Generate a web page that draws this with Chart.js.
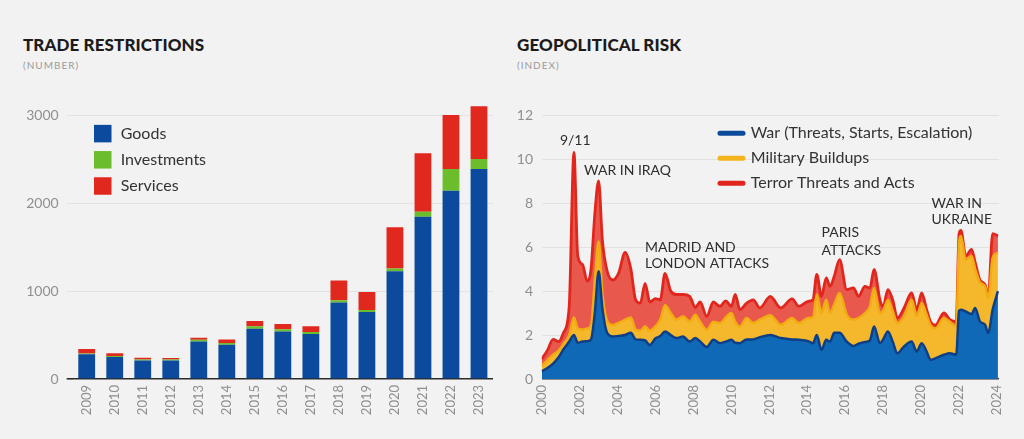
<!DOCTYPE html>
<html>
<head>
<meta charset="utf-8">
<script src="https://cdn.jsdelivr.net/npm/chart.js@4.4.1/dist/chart.umd.min.js"></script>
<style>
  html, body { margin: 0; padding: 0; background: #f2f2f2; }
  body { width: 1024px; height: 439px; position: relative; overflow: hidden; font-family: Lato, "Noto Sans", sans-serif; }
  canvas { position: absolute; top: 0; }
  #c1 { left: 0; }
  #c2 { left: 512px; }
  .title { position: absolute; font-weight: 900; font-size: 17px; line-height: 1; color: #1b1b1b; letter-spacing: 0.1px; }
  .sub { position: absolute; font-size: 10px; line-height: 1; color: #9a9a9a; letter-spacing: 1px; }
</style>
</head>
<body>
<div class="title" style="left:23px; top:36px;">TRADE RESTRICTIONS</div>
<div class="sub" style="left:23px; top:60px;">(NUMBER)</div>
<div class="title" style="left:517px; top:36px;">GEOPOLITICAL RISK</div>
<div class="sub" style="left:517px; top:60px;">(INDEX)</div>
<canvas id="c1" width="512" height="439"></canvas>
<canvas id="c2" width="512" height="439"></canvas>
<script>
// ---------- Trade restrictions (number) ----------
const tradeYears = ['2009','2010','2011','2012','2013','2014','2015','2016','2017','2018','2019','2020','2021','2022','2023'];
const goods       = [280, 250, 210, 210, 425, 390, 570, 540, 510, 870, 760, 1225, 1845, 2140, 2385];
const investments = [10, 12, 12, 12, 20, 20, 30, 25, 25, 25, 25, 30, 55, 245, 115];
const services    = [50, 30, 20, 18, 25, 40, 60, 60, 65, 225, 205, 470, 665, 615, 600];
const tradeTicks  = [0, 1000, 2000, 3000];

// ---------- Geopolitical risk (index) ----------
const riskDates = [2000.0, 2000.3, 2000.6, 2000.9, 2001.15, 2001.45, 2001.7, 2001.9, 2002.15, 2002.4,
  2002.6, 2002.8, 2003.0, 2003.2, 2003.45, 2003.75, 2004.05, 2004.4, 2004.7, 2004.95,
  2005.2, 2005.45, 2005.7, 2006.0, 2006.25, 2006.5, 2006.8, 2007.1, 2007.45, 2007.8,
  2008.1, 2008.35, 2008.7, 2009.05, 2009.4, 2009.7, 2010.0, 2010.2, 2010.45, 2010.8,
  2011.15, 2011.5, 2012.05, 2012.6, 2013.2, 2013.55, 2014.05, 2014.3, 2014.5, 2014.75,
  2015.0, 2015.2, 2015.42, 2015.7, 2016.08, 2016.43, 2016.7, 2017.04, 2017.3, 2017.52,
  2017.83, 2018.0, 2018.25, 2018.5, 2018.75, 2019.1, 2019.5, 2019.77, 2020.03, 2020.29,
  2020.5, 2020.75, 2021.2, 2021.52, 2021.85, 2022.0, 2022.1, 2022.35, 2022.66, 2022.85,
  2023.1, 2023.37, 2023.54, 2023.77, 2024.05];
const war = [0.35,0.5,0.7,1.0,1.35, 1.7,2.0,1.65,1.7,1.72, 1.8,3.0,4.9,3.2,2.1, 1.93,1.96,2.0,2.1,1.8,
  1.78,1.75,1.55,1.85,1.95, 2.16,2.0,1.86,1.93,1.7, 1.86,1.7,1.45,1.78,1.63, 1.7,1.78,1.65,1.63,1.8,
  1.8,1.9,2.0,1.86,1.8, 1.78,1.72,1.63,2.0,1.32, 1.78,1.7,2.1,2.1,1.7, 1.5,1.6,1.68,1.75,2.39,
  1.63,1.8,2.16,1.7,1.17, 1.48,1.7,1.25,1.63,1.25, 0.87,0.94,1.1,1.17,1.1, 3.1,3.15,3.07,2.95,3.23,
  2.62,2.47,2.09,3.15,3.99];
const militaryBuildups = [0.25,0.35,0.4,0.3,0.25, 0.3,0.8,0.65,0.55,0.58, 0.65,1.5,1.35,0.7,0.55, 0.52,0.59,0.7,0.7,0.45,
  0.42,0.65,0.65,0.55,0.75, 1.19,1.0,0.84,0.92,0.92, 1.06,0.9,0.79,0.82,0.91, 1.1,1.22,0.95,0.76,0.97,
  0.74,0.8,0.9,0.61,0.97, 0.76,1.05,1.17,1.84,1.68, 1.82,1.3,1.3,1.81,1.22, 1.2,1.17,1.32,1.55,1.75,
  1.37,1.3,1.44,1.4,1.37, 1.37,1.9,1.6,1.82,1.67, 1.58,1.36,1.67,1.43,1.29, 3.1,3.35,2.36,2.64,1.77,
  1.78,1.74,1.59,2.36,1.75];
const terror = [0.3,0.45,0.7,0.4,0.5, 1.3,7.5,3.3,2.95,2.15, 2.55,3.0,2.75,2.4,2.25, 2.05,2.25,3.05,2.2,1.35,
  1.25,1.95,1.3,1.25,0.9, 1.45,1.0,1.14,0.99,1.14, 0.33,0.9,0.61,0.9,0.76, 0.75,0.3,1.24,0.76,0.68,
  1.06,0.53,0.86,0.76,0.87, 0.76,0.76,0.8,0.91,0.76, 1.0,1.21,1.27,1.52,1.14, 1.44,0.99,1.21,0.84,0.84,
  0.6,0.2,0.46,0.5,0.23, 0.38,0.31,0.3,0.46,0.23, 0.15,0.15,0.23,0.1,0.23, 0.4,0.25,0.17,0.3,0.3,
  0.1,0.08,0.08,1.1,0.76];
const riskYTicks = [0, 2, 4, 6, 8, 10, 12];
const riskXTicks = [2000, 2002, 2004, 2006, 2008, 2010, 2012, 2014, 2016, 2018, 2020, 2022, 2024];
const eventLabels = ['9/11', 'WAR IN IRAQ', 'MADRID AND', 'LONDON ATTACKS', 'PARIS', 'ATTACKS', 'WAR IN', 'UKRAINE'];
const eventX = [2000.96, 2002.23, 2005.44, 2005.44, 2014.75, 2014.75, 2020.55, 2020.55];
const eventY = [10.86, 9.5, 6.0, 5.27, 6.64, 5.86, 8.0, 7.23];

Chart.defaults.font.family = 'Lato, "Noto Sans", sans-serif';
Chart.defaults.color = '#8f8f8f';

const gridColor = (c) => (c.tick && c.tick.value === 0) ? '#2b2b2b' : '#e2e2e2';
const gridWidth = (c) => (c.tick && c.tick.value === 0) ? 1.6 : 1;

const boxLegend = {
  id: 'boxLegend',
  afterDraw(chart, args, o) {
    const ctx = chart.ctx;
    ctx.save();
    ctx.font = '16px Lato, "Noto Sans", sans-serif';
    ctx.textBaseline = 'middle';
    chart.data.datasets.forEach((ds, i) => {
      const y = o.y + i * o.gap;
      ctx.fillStyle = ds.backgroundColor;
      ctx.fillRect(o.x, y - o.box / 2, o.box, o.box);
      ctx.fillStyle = '#333';
      ctx.fillText(ds.label, o.textX, y);
    });
    ctx.restore();
  }
};

const lineLegend = {
  id: 'lineLegend',
  afterDraw(chart, args, o) {
    const ctx = chart.ctx;
    ctx.save();
    ctx.font = '16px Lato, "Noto Sans", sans-serif';
    ctx.textBaseline = 'middle';
    chart.data.datasets.forEach((ds, i) => {
      const y = o.y + i * o.gap;
      ctx.strokeStyle = ds.legendColor;
      ctx.lineWidth = 5;
      ctx.lineCap = 'round';
      ctx.beginPath();
      ctx.moveTo(o.x1, y);
      ctx.lineTo(o.x2, y);
      ctx.stroke();
      ctx.fillStyle = '#333';
      ctx.fillText(ds.label, o.textX, y);
    });
    ctx.restore();
  }
};

const eventNotes = {
  id: 'eventNotes',
  afterDatasetsDraw(chart) {
    const ctx = chart.ctx, xs = chart.scales.x, ys = chart.scales.y;
    ctx.save();
    ctx.font = '14px Lato, "Noto Sans", sans-serif';
    ctx.fillStyle = '#2e2e2e';
    ctx.textAlign = 'left';
    ctx.textBaseline = 'middle';
    eventLabels.forEach((t, i) => {
      ctx.fillText(t, xs.getPixelForValue(eventX[i]), ys.getPixelForValue(eventY[i]));
    });
    ctx.restore();
  }
};

new Chart(document.getElementById('c1'), {
  type: 'bar',
  data: {
    labels: tradeYears,
    datasets: [
      { label: 'Goods', data: goods, backgroundColor: '#0b4a9c' },
      { label: 'Investments', data: investments, backgroundColor: '#6cbd2c' },
      { label: 'Services', data: services, backgroundColor: '#e1281f' }
    ]
  },
  options: {
    responsive: false, animation: false, devicePixelRatio: 1,
    layout: { padding: { top: 88.6, right: 19, left: 0, bottom: 0 } },
    datasets: { bar: { barPercentage: 0.6, categoryPercentage: 1 } },
    plugins: {
      legend: { display: false }, tooltip: { enabled: false },
      boxLegend: { x: 94, box: 17.5, textX: 120.7, y: 133.6, gap: 26.2 }
    },
    scales: {
      x: {
        stacked: true,
        grid: { display: false, drawTicks: false },
        border: { display: false },
        ticks: { minRotation: 90, maxRotation: 90, autoSkip: false, padding: 6, font: { size: 13 }, color: '#8f8f8f' },
        afterFit(s) { s.height = 60; }
      },
      y: {
        stacked: true, min: 0, max: 3300,
        afterBuildTicks(s) { s.ticks = tradeTicks.map(v => ({ value: v })); },
        grid: { color: gridColor, lineWidth: gridWidth, tickLength: 6 },
        border: { display: false },
        ticks: { padding: 8, font: { size: 14 }, color: '#8f8f8f', callback: (v) => String(v) },
        afterFit(s) { s.width = 72.7; }
      }
    }
  },
  plugins: [boxLegend]
});

const pts = (arr) => riskDates.map((d, i) => ({ x: d, y: arr[i] }));

new Chart(document.getElementById('c2'), {
  type: 'line',
  data: {
    datasets: [
      { label: 'War (Threats, Starts, Escalation)', data: pts(war), fill: 'origin',
        backgroundColor: '#1069b6', borderColor: '#0c3f86', legendColor: '#0c4a9a', borderWidth: 2.5 },
      { label: 'Military Buildups', data: pts(militaryBuildups), fill: '-1',
        backgroundColor: '#f5b82c', borderColor: '#f2ab12', legendColor: '#f4b51c', borderWidth: 2.5 },
      { label: 'Terror Threats and Acts', data: pts(terror), fill: '-1',
        backgroundColor: '#e8584c', borderColor: '#e1261d', legendColor: '#e1261d', borderWidth: 2.8 }
    ]
  },
  options: {
    responsive: false, animation: false, devicePixelRatio: 1,
    layout: { padding: { top: 115, right: 25.1, left: 0, bottom: 0 } },
    elements: { point: { radius: 0 }, line: { cubicInterpolationMode: 'monotone' } },
    plugins: {
      legend: { display: false }, tooltip: { enabled: false },
      lineLegend: { x1: 208, x2: 231, textX: 238.7, y: 133.3, gap: 25 }
    },
    scales: {
      x: {
        type: 'linear', min: 2000, max: 2024.1,
        afterBuildTicks(s) { s.ticks = riskXTicks.map(v => ({ value: v })); },
        grid: { display: false, drawTicks: false },
        border: { display: false },
        ticks: { minRotation: 90, maxRotation: 90, autoSkip: false, padding: 6, font: { size: 13 }, color: '#8f8f8f',
                 callback: (v) => String(v) },
        afterFit(s) { s.height = 60; }
      },
      y: {
        stacked: true, min: 0, max: 12,
        afterBuildTicks(s) { s.ticks = riskYTicks.map(v => ({ value: v })); },
        grid: { color: gridColor, lineWidth: gridWidth, drawTicks: false },
        border: { display: false },
        ticks: { padding: 8.7, font: { size: 14 }, color: '#8f8f8f' },
        afterFit(s) { s.width = 29.7; }
      }
    }
  },
  plugins: [lineLegend, eventNotes]
});
</script>
</body>
</html>
